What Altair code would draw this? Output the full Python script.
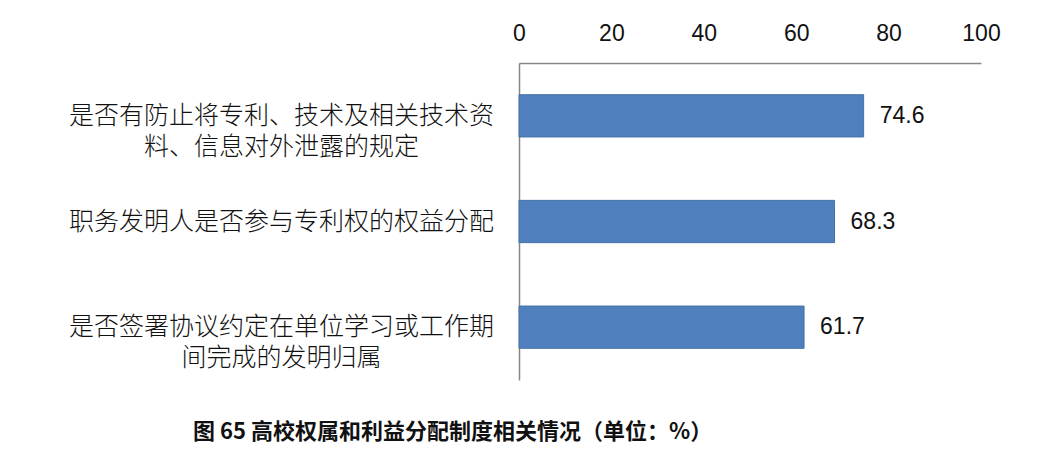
import altair as alt
import pandas as pd

categories = [
    "是否有防止将专利、技术及相关技术资\n料、信息对外泄露的规定",
    "职务发明人是否参与专利权的权益分配",
    "是否签署协议约定在单位学习或工作期\n间完成的发明归属",
]
values = [74.6, 68.3, 61.7]
x_ticks = [0, 20, 40, 60, 80, 100]
title_text = "图 65 高校权属和利益分配制度相关情况（单位：%）"

df = pd.DataFrame({"cat": categories, "val": values})

y_enc = alt.Y(
    "cat:N",
    sort=categories,
    title=None,
    scale=alt.Scale(paddingInner=0.6, paddingOuter=0.3),
    axis=alt.Axis(
        orient="left",
        ticks=False,
        tickSize=0,
        grid=False,
        domain=True,
        domainColor="#868686",
        domainWidth=1.5,
        labelAlign="center",
        labelBaseline="middle",
        labelPadding=238,
        labelFont="Noto Sans CJK SC",
        labelFontSize=25,
        labelFontWeight=300,
        labelColor="#111111",
        labelLineHeight=31,
        labelLimit=0,
        labelExpr="split(datum.label, '\\n')",
    ),
)

x_enc = alt.X(
    "val:Q",
    title=None,
    scale=alt.Scale(domain=[0, 100], nice=False),
    axis=alt.Axis(
        orient="top",
        values=x_ticks,
        ticks=False,
        tickSize=0,
        grid=False,
        domain=True,
        domainColor="#868686",
        domainWidth=1.5,
        labelFont="Liberation Sans",
        labelFontSize=23,
        labelColor="#111111",
        labelPadding=18,
        labelFlush=False,
    ),
)

bars = alt.Chart(df).mark_bar(
    color="#4F7FBD", stroke="#4572A7", strokeWidth=1
).encode(x=x_enc, y=y_enc)

texts = alt.Chart(df).mark_text(
    align="left", baseline="middle", dx=16,
    font="Liberation Sans", fontSize=23, color="#111111"
).encode(
    x=alt.X("val:Q"),
    y=alt.Y("cat:N", sort=categories),
    text=alt.Text("val:Q", format=".1f"),
)

chart = (
    alt.layer(bars, texts)
    .properties(
        width=462,
        height=317,
        view=alt.ViewBackground(stroke="transparent", strokeWidth=0),
        autosize=alt.AutoSizeParams(type="none"),
        padding={"left": 511, "top": 55, "right": 60, "bottom": 70},
        title=alt.TitleParams(
            text=title_text,
            orient="bottom",
            anchor="start",
            frame="group",
            dx=-326,
            offset=42,
            font="Noto Sans CJK SC",
            fontSize=22,
            fontWeight="bold",
            color="#111111",
            baseline="top",
        ),
    )
    .configure_view(strokeWidth=0, stroke="transparent")
    .configure_axis(grid=False)
    .configure(background="white")
)

chart.save("out.html", embed_options={"renderer": "svg", "actions": False})
